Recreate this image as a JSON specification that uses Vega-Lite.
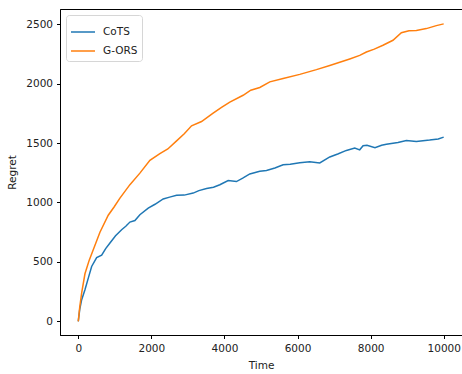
{
  "$schema": "https://vega.github.io/schema/vega-lite/v6.json",
  "width": 402,
  "height": 326,
  "autosize": {"type": "none"},
  "padding": {"left": 60, "top": 9, "right": 0, "bottom": 39},
  "background": "white",
  "config": {
    "font": "DejaVu Sans",
    "view": {"stroke": "black", "strokeWidth": 1},
    "axis": {
      "grid": false,
      "domainColor": "black",
      "tickColor": "black",
      "tickSize": 3.5,
      "labelFontSize": 10.5,
      "labelColor": "#222",
      "titleFontSize": 10.5,
      "titleFontWeight": "normal",
      "titleColor": "#222"
    }
  },
  "data": {
    "values": [
      {"t": 0, "v": 0, "s": "CoTS"},
      {"t": 40, "v": 100, "s": "CoTS"},
      {"t": 93, "v": 182, "s": "CoTS"},
      {"t": 183, "v": 266, "s": "CoTS"},
      {"t": 280, "v": 370, "s": "CoTS"},
      {"t": 366, "v": 462, "s": "CoTS"},
      {"t": 503, "v": 536, "s": "CoTS"},
      {"t": 640, "v": 556, "s": "CoTS"},
      {"t": 750, "v": 612, "s": "CoTS"},
      {"t": 867, "v": 659, "s": "CoTS"},
      {"t": 1020, "v": 720, "s": "CoTS"},
      {"t": 1186, "v": 771, "s": "CoTS"},
      {"t": 1300, "v": 800, "s": "CoTS"},
      {"t": 1413, "v": 835, "s": "CoTS"},
      {"t": 1550, "v": 848, "s": "CoTS"},
      {"t": 1686, "v": 897, "s": "CoTS"},
      {"t": 1914, "v": 953, "s": "CoTS"},
      {"t": 2100, "v": 985, "s": "CoTS"},
      {"t": 2324, "v": 1030, "s": "CoTS"},
      {"t": 2500, "v": 1045, "s": "CoTS"},
      {"t": 2690, "v": 1060, "s": "CoTS"},
      {"t": 2900, "v": 1062, "s": "CoTS"},
      {"t": 3144, "v": 1079, "s": "CoTS"},
      {"t": 3300, "v": 1100, "s": "CoTS"},
      {"t": 3510, "v": 1118, "s": "CoTS"},
      {"t": 3700, "v": 1128, "s": "CoTS"},
      {"t": 3874, "v": 1149, "s": "CoTS"},
      {"t": 4101, "v": 1185, "s": "CoTS"},
      {"t": 4328, "v": 1176, "s": "CoTS"},
      {"t": 4500, "v": 1205, "s": "CoTS"},
      {"t": 4694, "v": 1240, "s": "CoTS"},
      {"t": 4967, "v": 1262, "s": "CoTS"},
      {"t": 5150, "v": 1270, "s": "CoTS"},
      {"t": 5380, "v": 1290, "s": "CoTS"},
      {"t": 5605, "v": 1317, "s": "CoTS"},
      {"t": 5800, "v": 1322, "s": "CoTS"},
      {"t": 6061, "v": 1335, "s": "CoTS"},
      {"t": 6334, "v": 1342, "s": "CoTS"},
      {"t": 6608, "v": 1333, "s": "CoTS"},
      {"t": 6882, "v": 1383, "s": "CoTS"},
      {"t": 7100, "v": 1408, "s": "CoTS"},
      {"t": 7337, "v": 1438, "s": "CoTS"},
      {"t": 7565, "v": 1458, "s": "CoTS"},
      {"t": 7701, "v": 1443, "s": "CoTS"},
      {"t": 7793, "v": 1478, "s": "CoTS"},
      {"t": 7900, "v": 1482, "s": "CoTS"},
      {"t": 8119, "v": 1460, "s": "CoTS"},
      {"t": 8300, "v": 1482, "s": "CoTS"},
      {"t": 8431, "v": 1490, "s": "CoTS"},
      {"t": 8748, "v": 1505, "s": "CoTS"},
      {"t": 8978, "v": 1522, "s": "CoTS"},
      {"t": 9251, "v": 1513, "s": "CoTS"},
      {"t": 9614, "v": 1525, "s": "CoTS"},
      {"t": 9850, "v": 1535, "s": "CoTS"},
      {"t": 9999, "v": 1550, "s": "CoTS"},
      {"t": 0, "v": 0, "s": "G-ORS"},
      {"t": 40, "v": 120, "s": "G-ORS"},
      {"t": 93, "v": 239, "s": "G-ORS"},
      {"t": 183, "v": 400, "s": "G-ORS"},
      {"t": 300, "v": 515, "s": "G-ORS"},
      {"t": 410, "v": 602, "s": "G-ORS"},
      {"t": 593, "v": 750, "s": "G-ORS"},
      {"t": 820, "v": 893, "s": "G-ORS"},
      {"t": 980, "v": 962, "s": "G-ORS"},
      {"t": 1140, "v": 1037, "s": "G-ORS"},
      {"t": 1413, "v": 1150, "s": "G-ORS"},
      {"t": 1686, "v": 1247, "s": "G-ORS"},
      {"t": 1960, "v": 1355, "s": "G-ORS"},
      {"t": 2233, "v": 1412, "s": "G-ORS"},
      {"t": 2450, "v": 1450, "s": "G-ORS"},
      {"t": 2690, "v": 1518, "s": "G-ORS"},
      {"t": 2900, "v": 1578, "s": "G-ORS"},
      {"t": 3100, "v": 1645, "s": "G-ORS"},
      {"t": 3373, "v": 1681, "s": "G-ORS"},
      {"t": 3690, "v": 1751, "s": "G-ORS"},
      {"t": 3920, "v": 1800, "s": "G-ORS"},
      {"t": 4147, "v": 1845, "s": "G-ORS"},
      {"t": 4511, "v": 1902, "s": "G-ORS"},
      {"t": 4720, "v": 1945, "s": "G-ORS"},
      {"t": 4967, "v": 1968, "s": "G-ORS"},
      {"t": 5241, "v": 2015, "s": "G-ORS"},
      {"t": 5605, "v": 2043, "s": "G-ORS"},
      {"t": 6061, "v": 2078, "s": "G-ORS"},
      {"t": 6517, "v": 2118, "s": "G-ORS"},
      {"t": 6882, "v": 2153, "s": "G-ORS"},
      {"t": 7155, "v": 2180, "s": "G-ORS"},
      {"t": 7428, "v": 2208, "s": "G-ORS"},
      {"t": 7701, "v": 2238, "s": "G-ORS"},
      {"t": 7884, "v": 2266, "s": "G-ORS"},
      {"t": 8100, "v": 2290, "s": "G-ORS"},
      {"t": 8338, "v": 2323, "s": "G-ORS"},
      {"t": 8611, "v": 2365, "s": "G-ORS"},
      {"t": 8841, "v": 2428, "s": "G-ORS"},
      {"t": 9050, "v": 2445, "s": "G-ORS"},
      {"t": 9251, "v": 2448, "s": "G-ORS"},
      {"t": 9524, "v": 2463, "s": "G-ORS"},
      {"t": 9798, "v": 2488, "s": "G-ORS"},
      {"t": 9999, "v": 2503, "s": "G-ORS"}
    ]
  },
  "mark": {"type": "line", "strokeWidth": 1.5, "clip": true},
  "encoding": {
    "x": {
      "field": "t", "type": "quantitative", "title": "Time",
      "scale": {"domain": [-500, 10500], "nice": false, "zero": false},
      "axis": {"values": [0, 2000, 4000, 6000, 8000, 10000], "format": "d", "labelPadding": 5, "titlePadding": 6}
    },
    "y": {
      "field": "v", "type": "quantitative", "title": "Regret",
      "scale": {"domain": [-115, 2628], "nice": false, "zero": false},
      "axis": {"values": [0, 500, 1000, 1500, 2000, 2500], "format": "d", "labelPadding": 4, "titlePadding": 8}
    },
    "color": {
      "field": "s", "type": "nominal",
      "scale": {"domain": ["CoTS", "G-ORS"], "range": ["#1f77b4", "#ff7f0e"]},
      "legend": {
        "title": null,
        "orient": "top-left",
        "offset": 6,
        "symbolType": "stroke",
        "symbolStrokeWidth": 1.5,
        "symbolSize": 576,
        "labelFontSize": 10.5,
        "labelColor": "#222",
        "fillColor": "white",
        "strokeColor": "#d6d6d6",
        "cornerRadius": 3,
        "padding": 4,
        "rowPadding": -1,
        "labelOffset": 7
      }
    }
  }
}
